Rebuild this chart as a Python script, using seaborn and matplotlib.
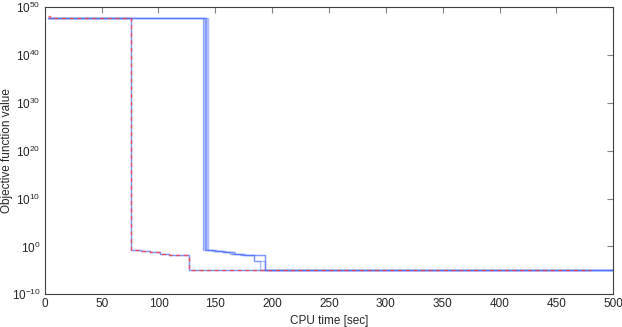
import matplotlib
matplotlib.use("Agg")
import matplotlib.pyplot as plt
import seaborn as sns
import pandas as pd
from matplotlib.ticker import FixedLocator, NullLocator

# Objective levels shared by the runs
start_val = 6e47
steps_val = [0.2, 0.105, 0.056, 0.03, 0.018]
mid_val = 8e-4
final_val = 1e-5

# Runs that drop early (~76 s)
early_times = [3, 75.7, 84.2, 92.4, 101.1, 109.3, 126.6, 500]
early_vals = [start_val] + steps_val + [final_val, final_val]

# Runs that drop late (~140 s), slightly shifted in time
late_times_1 = [3, 139.0, 147.5, 155.5, 163.0, 172.0, 184.0, 189.0, 500]
late_vals_1 = [start_val] + steps_val + [mid_val, final_val, final_val]
late_times_2 = [3, 140.5, 148.5, 156.5, 164.5, 173.5, 184.0, 194.0, 500]
late_vals_2 = [start_val] + steps_val + [mid_val, final_val, final_val]
late_times_3 = [3, 142.0, 150.0, 158.0, 166.0, 175.0, 194.0, 500]
late_vals_3 = [start_val] + steps_val + [final_val, final_val]
late_times_4 = [3, 143.5, 151.5, 159.5, 167.5, 176.5, 194.0, 500]
late_vals_4 = [start_val] + steps_val + [final_val, final_val]

# Reference run (red dashed)
ref_times = [2.6, 4.5, 75.7, 84.2, 92.4, 101.1, 109.3, 126.6, 480]
ref_vals = [1.3e48, start_val] + steps_val + [final_val, final_val]

late_runs = [(late_times_1, late_vals_1), (late_times_2, late_vals_2),
             (late_times_3, late_vals_3), (late_times_4, late_vals_4)]
runs = [(early_times, early_vals), (early_times, early_vals)] + late_runs

rows = []
for k, (t, v) in enumerate(runs):
    for ti, vi in zip(t, v):
        rows.append({"run": k, "time": ti, "value": vi})
df = pd.DataFrame(rows)
ref_df = pd.DataFrame({"time": ref_times, "value": ref_vals})

sns.set_style("white")
plt.rcParams['font.family'] = ['Liberation Sans', 'DejaVu Sans']

fig = plt.figure(figsize=(6.22, 3.27), dpi=100)
ax = fig.add_axes([0.072, 0.1, 0.914, 0.8786])

blue = "#4a6dff"

# light band spanned by the late runs' big drop
drop_lo = min(t[1] for t, v in late_runs)
drop_hi = max(t[1] for t, v in late_runs)
ax.fill_betweenx([steps_val[0], start_val], drop_lo, drop_hi,
                 color=blue, alpha=0.3, linewidth=0)

sns.lineplot(data=df, x="time", y="value", units="run", estimator=None,
             drawstyle="steps-post", color=blue, alpha=0.45, linewidth=1.0,
             ax=ax, legend=False)
sns.lineplot(data=ref_df, x="time", y="value", drawstyle="steps-post",
             color="#ff3b3b", alpha=0.8, linewidth=1.0, dashes=False,
             linestyle=(0, (3, 2.5)), ax=ax, legend=False)

ax.set_yscale("log")
ax.set_xlim(0, 500)
ax.set_ylim(1e-10, 1e50)
ax.xaxis.set_major_locator(FixedLocator(range(0, 501, 50)))
ax.yaxis.set_major_locator(FixedLocator([10.0 ** k for k in range(-10, 51, 10)]))
ax.yaxis.set_minor_locator(NullLocator())

ax.tick_params(direction="in", top=True, right=True, length=4, width=0.8,
               color="#808080", labelsize=8.5, pad=3)
for s in ax.spines.values():
    s.set_color("#404040")
    s.set_linewidth(0.8)

ax.set_xlabel("CPU time [sec]", fontsize=8.5, labelpad=3)
ax.set_ylabel("Objective function value", fontsize=8.5)
ax.yaxis.set_label_coords(-0.056, 0.5)

fig.savefig("out.png", dpi=100)
